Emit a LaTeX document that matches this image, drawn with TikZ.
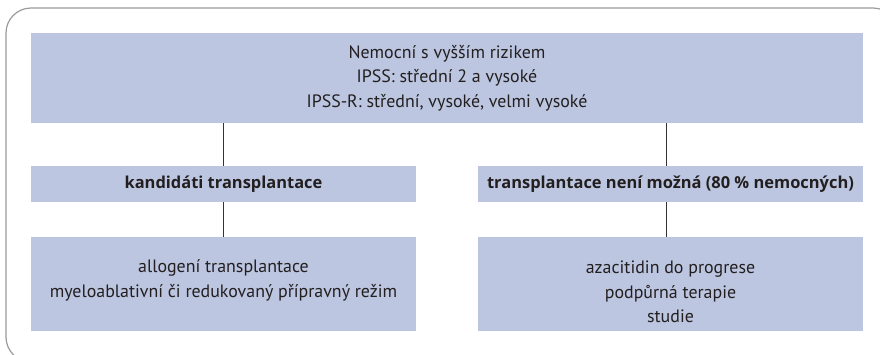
\documentclass[tikz,border=0pt]{standalone}
\usepackage{fontspec}
\setmainfont{PT Sans}
\newfontfamily\hdfont{Open Sans}
\usetikzlibrary{calc}
\definecolor{boxfill}{HTML}{BCC6E0}
\definecolor{txtcol}{HTML}{231F20}
\definecolor{framecol}{HTML}{9A9A9A}
\definecolor{linecol}{HTML}{333333}
\begin{document}
\begin{tikzpicture}[x=1pt,y=-1pt,
  box/.style={fill=boxfill,draw=none,inner sep=0pt,anchor=north west},
  txt/.style={text=txtcol,inner sep=0pt,align=center,font=\fontsize{17.9}{24.5}\selectfont},
  hd/.style={text=txtcol,inner sep=0pt,align=center,font=\hdfont\fontsize{16.45}{24.5}\selectfont\bfseries},
  conn/.style={draw=linecol,line width=1pt}]
\useasboundingbox (0,0) rectangle (880,354);
\begin{scope}
\clip (0,0) rectangle (880,354);
\draw[framecol,line width=1.2pt,rounded corners=25pt] (6,8) rectangle (898,362);
\end{scope}
% boxes
\node[box,minimum width=832pt,minimum height=90pt] (top) at (31,33) {};
\node[box,minimum width=385pt,minimum height=36pt] (ml) at (31,166) {};
\node[box,minimum width=385pt,minimum height=36pt] (mr) at (478,166) {};
\node[box,minimum width=385pt,minimum height=94pt] (bl) at (31,237) {};
\node[box,minimum width=385pt,minimum height=94pt] (br) at (478,237) {};
% texts
\node[txt] (ttop) at (447,78) {Nemocní s vyšším rizikem\\IPSS: střední 2 a vysoké\\IPSS-R: střední, vysoké, velmi vysoké};
\node[hd] (tml) at (223.5,184) {kandidáti transplantace};
\node[hd] (tmr) at (670.5,184) {transplantace není možná (80~\% nemocných)};
\node[txt] (tbl) at (223.5,280.5) {allogení transplantace\\myeloablativní či redukovaný přípravný režim};
\node[txt] (tbr) at (670.5,292) {azacitidin do progrese\\podpůrná terapie\\studie};
% connectors
\coordinate (cl) at (223,0);
\coordinate (cr) at (666,0);
\draw[conn] (top.south -| cl) -- (ml.north -| cl);
\draw[conn] (top.south -| cr) -- (mr.north -| cr);
\draw[conn] (ml.south -| cl) -- (bl.north -| cl);
\draw[conn] (mr.south -| cr) -- (br.north -| cr);
\end{tikzpicture}
\end{document}
